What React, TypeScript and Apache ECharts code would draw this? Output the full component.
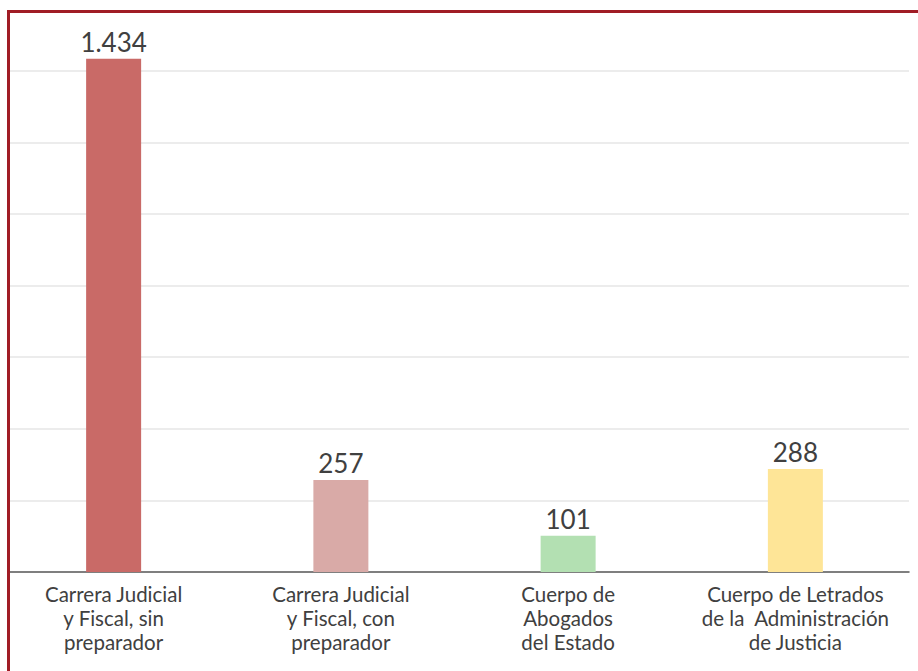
import React, { useEffect, useRef } from "react";
import * as echarts from "echarts";

const categories = [
  "Carrera Judicial\ny Fiscal, sin\npreparador",
  "Carrera Judicial\ny Fiscal, con\npreparador",
  "Cuerpo de\nAbogados\ndel Estado",
  "Cuerpo de Letrados\nde la  Administración\nde Justicia",
];
const values = [1434, 257, 101, 288];
const barColors = ["#c96a67", "#d9aaa7", "#b3e0b2", "#fee597"];

const fmt = (v: number) => String(v).replace(/\B(?=(\d{3})+(?!\d))/g, ".");

export default function App() {
  const ref = useRef<HTMLDivElement>(null);
  useEffect(() => {
    if (!ref.current) return;
    const chart = echarts.init(ref.current, undefined, { renderer: "svg" });
    chart.setOption({
      animation: false,
      grid: { left: 0, right: 9, top: 35, bottom: 99 },
      xAxis: {
        type: "category",
        data: categories,
        axisTick: { show: false },
        axisLine: { lineStyle: { color: "#555555", width: 1.5 } },
        axisLabel: {
          interval: 0,
          color: "#404040",
          fontFamily: "Lato",
          fontSize: 20.5,
          lineHeight: 24,
          margin: 10,
        },
      },
      yAxis: {
        type: "value",
        min: 0,
        max: 1500,
        interval: 200,
        axisLabel: { show: false },
        axisLine: { show: false },
        axisTick: { show: false },
        splitLine: {
          showMinLine: false,
          showMaxLine: false,
          lineStyle: { color: "#e6e6e6", width: 1.5 },
        },
      },
      series: [
        {
          type: "bar",
          barWidth: 55,
          data: values.map((v, i) => ({ value: v, itemStyle: { color: barColors[i] } })),
          label: {
            show: true,
            position: "top",
            distance: 4,
            color: "#404040",
            fontFamily: "Lato",
            fontSize: 26,
            formatter: (p: any) => fmt(p.value),
          },
        },
      ],
    });
    return () => chart.dispose();
  }, []);
  return (
    <div
      style={{
        position: "absolute",
        left: 7,
        top: 10,
        width: 911,
        height: 661,
        borderTop: "3px solid #a01c25",
        borderLeft: "3px solid #a01c25",
        boxSizing: "border-box",
        overflow: "hidden",
      }}
    >
      <div ref={ref} style={{ position: "absolute", left: -10, top: -13, width: 918, height: 671 }} />
    </div>
  );
}
